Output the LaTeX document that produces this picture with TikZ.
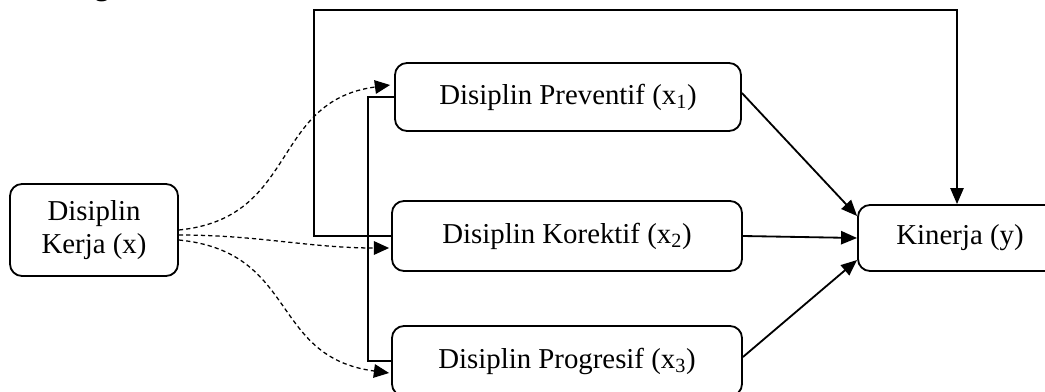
\documentclass[tikz,border=0pt]{standalone}
\usepackage{fontspec}
\setmainfont{Liberation Serif}
\usetikzlibrary{calc,positioning,arrows.meta}

\begin{document}
\begin{tikzpicture}[
		box/.style={draw, rounded corners=0.3cm, line width=1.3pt, minimum width=8.75cm, minimum height=1.75cm, inner sep=0pt, align=center, font=\fontsize{20.5}{23.5}\selectfont},
		arr/.style={line width=1.3pt, -{Triangle[length=0.4cm, width=0.33cm]}},
		dasharr/.style={line width=0.9pt, dash pattern=on 3pt off 2.2pt, -{Triangle[length=0.38cm, width=0.34cm]}}
	]
			\useasboundingbox (0,0) rectangle (26.125,9.775);
			% heading above, only its tail shows
			\node[anchor=base, inner sep=0pt, font=\bfseries\fontsize{20.5}{23.5}\selectfont] (hd) at (2.55,9.9) {g};
			% variables
			\node[box, minimum width=4.2cm, minimum height=2.3cm] (kerja) at (2.35,4.025) {Disiplin\\Kerja (x)};
			\node[box, minimum width=8.65cm, minimum height=1.7cm] (prev) at (14.2,7.35) {Disiplin Preventif (x\textsubscript{1})};
			\node[box] (kor) at (14.175,3.875) {Disiplin Korektif (x\textsubscript{2})};
			\node[box] (prog) at (14.175,0.75) {Disiplin Progresif (x\textsubscript{3})};
			\node[box, minimum width=6cm, minimum height=1.65cm] (kin) at (24.45,3.825) {Kinerja (y)\hspace{0.9cm}};
			\coordinate (top) at (0,9.525);
			% x -> x1, x2, x3
			\draw[dasharr] (kerja.east) .. controls +(3,0.3) and +(-3,-0.4) .. ($(prev.west)+(-0.1,0.3)$);
			\draw[dasharr] ($(kerja.east)+(0,-0.125)$) .. controls +(2,0) and +(-2,0) .. ($(kor.west)+(-0.05,-0.3)$);
			\draw[dasharr] ($(kerja.east)+(0,-0.25)$) .. controls +(3,-0.3) and +(-3,0.4) .. ($(prog.west)+(-0.05,-0.3)$);
			% bracket joining the three dimensions
			\draw[line width=1.3pt] (prev.west) -- ++(-0.65,0) |- (prog.west);
			% x -> y over the top
			\draw[arr] (kor.west) -- ++(-1.925,0) |- (23.925,0 |- top) -- (23.925,0 |- kin.north);
			% x1, x2, x3 -> y
			\draw[arr] ($(prev.east)+(0,0.1)$) -- ($(kin.west)+(0,0.55)$);
			\draw[arr] (kor.east) -- (kin.west);
			\draw[arr] ($(prog.east)+(0,0.1)$) -- ($(kin.west)+(0,-0.55)$);
	\end{tikzpicture}
\end{document}
